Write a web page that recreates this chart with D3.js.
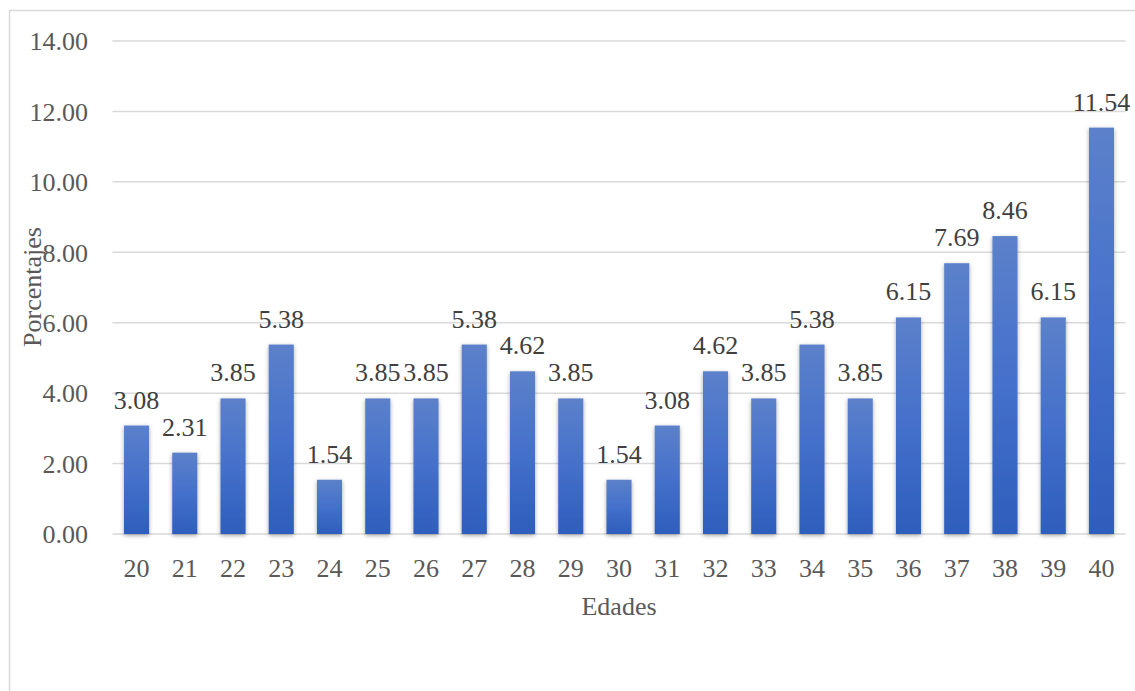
<!DOCTYPE html>
<html>
<head>
<meta charset="utf-8">
<script src="https://cdn.jsdelivr.net/npm/d3@7"></script>
<style>
html,body{margin:0;padding:0;background:#fff;}
svg{display:block;}
svg text{font-family:"Liberation Serif","Times New Roman",Times,serif !important;}
</style>
</head>
<body>
<svg id="chart" width="1135" height="691"></svg>
<script>
const categories = ["20","21","22","23","24","25","26","27","28","29","30","31","32","33","34","35","36","37","38","39","40"];
const values = [3.08,2.31,3.85,5.38,1.54,3.85,3.85,5.38,4.62,3.85,1.54,3.08,4.62,3.85,5.38,3.85,6.15,7.69,8.46,6.15,11.54];
const yTicks = [0,2,4,6,8,10,12,14];
const xTitle = "Edades";
const yTitle = "Porcentajes";

const svg = d3.select("#chart");

// chart border
svg.append("rect").attr("x",9.5).attr("y",10.5).attr("width",1135).attr("height",700)
  .attr("fill","#fff").attr("stroke","#d9d9d9").attr("stroke-width",1.5);

const defs = svg.append("defs");
const grad = defs.append("linearGradient").attr("id","barGrad").attr("x1",0).attr("y1",0).attr("x2",0).attr("y2",1);
grad.append("stop").attr("offset","0%").attr("stop-color","#5c81ca");
grad.append("stop").attr("offset","50%").attr("stop-color","#4470cb");
grad.append("stop").attr("offset","100%").attr("stop-color","#2e5ebc");
const f = defs.append("filter").attr("id","shadow").attr("x","-40%").attr("y","-10%").attr("width","180%").attr("height","120%");
f.append("feDropShadow").attr("dx",0).attr("dy",1.5).attr("stdDeviation",2.2).attr("flood-color","#000").attr("flood-opacity",0.35);

const x = d3.scaleBand().domain(categories).range([112.4,1125.6]).paddingInner(0.48).paddingOuter(0.24);
const y = d3.scaleLinear().domain([0,14]).range([534,41]);

// gridlines
svg.append("g").selectAll("line").data(yTicks).join("line")
  .attr("x1",112.4).attr("x2",1125.6)
  .attr("y1",d=>y(d)).attr("y2",d=>y(d))
  .attr("stroke","#d9d9d9").attr("stroke-width",1.5);

// y axis labels
const yAxis = d3.axisLeft(y).tickValues(yTicks).tickFormat(d3.format(".2f")).tickSize(0).tickPadding(0);
const yg = svg.append("g").attr("transform","translate(88,0)").call(yAxis);
yg.select(".domain").remove();
yg.selectAll("text").attr("font-size",26).attr("fill","#595959").attr("dy","0.34em");

// bars
svg.append("g").selectAll("rect").data(values).join("rect")
  .attr("x",(d,i)=>x(categories[i]))
  .attr("width",x.bandwidth())
  .attr("y",d=>y(d))
  .attr("height",d=>y(0)-y(d))
  .attr("fill","url(#barGrad)")
  .attr("filter","url(#shadow)");

// data labels
svg.append("g").selectAll("text").data(values).join("text")
  .attr("x",(d,i)=>x(categories[i])+x.bandwidth()/2)
  .attr("y",d=>y(d)-17)
  .attr("text-anchor","middle")
  .attr("font-size",26).attr("fill","#404040")
  .text(d=>d3.format(".2f")(d));

// x axis labels
const xAxis = d3.axisBottom(x).tickSize(0).tickPadding(0);
const xg = svg.append("g").attr("transform","translate(0,577)").call(xAxis);
xg.select(".domain").remove();
xg.selectAll("text").attr("font-size",26).attr("fill","#595959").attr("dy","0");

// axis titles
svg.append("text").attr("x",619).attr("y",615).attr("text-anchor","middle")
  .attr("font-size",26).attr("fill","#595959").text(xTitle);
svg.append("text").attr("transform","translate(41,287) rotate(-90)").attr("text-anchor","middle")
  .attr("font-size",26).attr("fill","#595959").text(yTitle);
</script>
</body>
</html>
